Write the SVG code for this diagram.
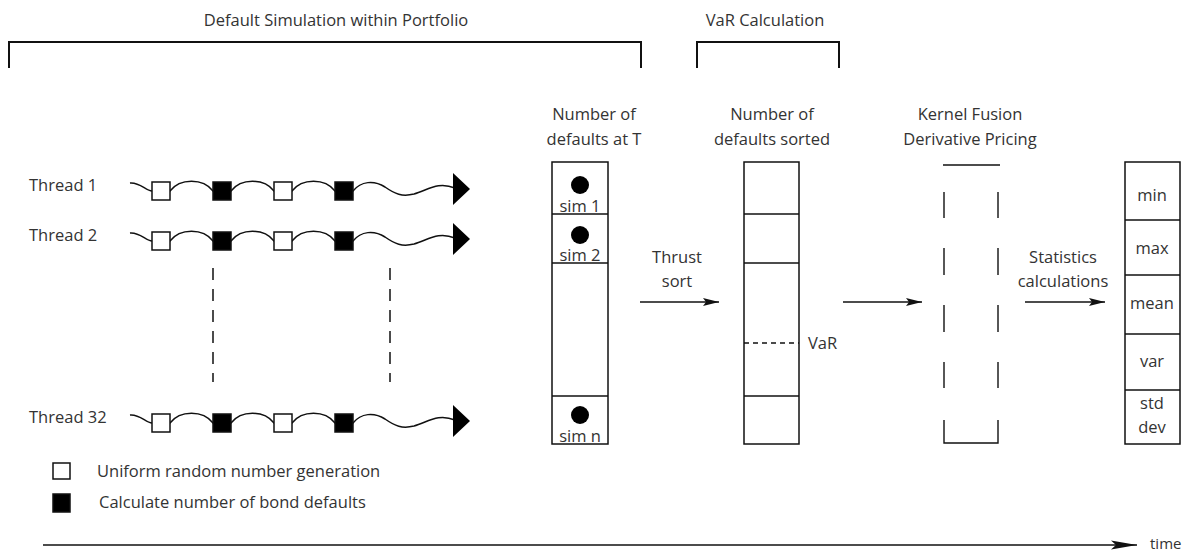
<svg xmlns="http://www.w3.org/2000/svg" width="1194" height="552" viewBox="0 0 1194 552">
<style>
text{font-family:"Open Sans","Liberation Sans",sans-serif;font-size:16.5px;fill:#333}
.c{text-anchor:middle}
.ln{fill:none;stroke:#111;stroke-width:1.4}
.br{fill:none;stroke:#111;stroke-width:2}
.wave{fill:none;stroke:#111;stroke-width:1.5}
.sqw{fill:#fff;stroke:#111;stroke-width:1.5}
.sqb{fill:#000;stroke:#111;stroke-width:1.5}
.box{fill:#fff;stroke:#111;stroke-width:1.5}
.dash{fill:none;stroke:#111;stroke-width:1.5;stroke-dasharray:12 9}
</style>
<defs>
<marker id="ah" viewBox="0 0 16 10" refX="16" refY="5" markerWidth="16" markerHeight="10" markerUnits="userSpaceOnUse" orient="auto">
<path d="M0,1 L16,5 L0,9 L3,5 Z" fill="#111"/>
</marker>
<marker id="ah2" viewBox="0 0 26 10" refX="26" refY="5" markerWidth="26" markerHeight="10" markerUnits="userSpaceOnUse" orient="auto">
<path d="M0,0.5 L26,5 L0,9.5 L5,5 Z" fill="#111"/>
</marker>
<g id="thread">
<path class="wave" d="M130,183 C140,182 146,191 152,191 L170,191 C180,178 203,178 213,191 L231,191 C241,178 264,178 274,191 L292,191 C302,178 325,178 335,191 L353,191 C361,181 374,180 385,187 C395,194 402,197 414,194 C428,190 438,181 455,188"/>
<rect class="sqw" x="152" y="182" width="18" height="18"/>
<rect class="sqb" x="213" y="182" width="18" height="18"/>
<rect class="sqw" x="274" y="182" width="18" height="18"/>
<rect class="sqb" x="335" y="182" width="18" height="18"/>
<polygon points="453,173 470,189 453,205" fill="#000"/>
</g>
</defs>

<g id="phase-default-sim">
<path class="br" d="M9,68 V42 H641 V68"/>
<text class="c" x="336" y="26">Default Simulation within Portfolio</text>
</g>
<g id="phase-var">
<path class="br" d="M697,68 V42 H839 V68"/>
<text class="c" x="765" y="26">VaR Calculation</text>
</g>

<g id="thread-1">
<text x="29" y="191">Thread 1</text>
<use href="#thread"/>
</g>
<g id="thread-2">
<text x="29" y="241">Thread 2</text>
<use href="#thread" transform="translate(0,50)"/>
</g>
<g id="thread-32">
<text x="29" y="423">Thread 32</text>
<use href="#thread" transform="translate(0,232)"/>
</g>
<g id="ellipsis">
<line class="dash" x1="213" y1="268" x2="213" y2="382"/>
<line class="dash" x1="390" y1="268" x2="390" y2="382"/>
</g>

<g id="legend">
<rect class="sqw" x="53" y="463" width="17" height="16"/>
<text x="97" y="477">Uniform random number generation</text>
<rect class="sqb" x="53" y="494" width="17" height="18"/>
<text x="99" y="508">Calculate number of bond defaults</text>
</g>

<g id="defaults-at-T">
<text class="c" x="594" y="120">Number of</text>
<text class="c" x="594" y="145">defaults at T</text>
<rect class="box" x="552" y="162" width="56" height="282"/>
<line class="ln" x1="552" y1="214" x2="608" y2="214"/>
<line class="ln" x1="552" y1="263" x2="608" y2="263"/>
<line class="ln" x1="552" y1="396" x2="608" y2="396"/>
<circle cx="580" cy="185" r="9" fill="#000"/>
<text class="c" x="580" y="212">sim 1</text>
<circle cx="580" cy="235" r="9" fill="#000"/>
<text class="c" x="580" y="261">sim 2</text>
<circle cx="580" cy="415" r="9" fill="#000"/>
<text class="c" x="580" y="442">sim n</text>
</g>

<g id="defaults-sorted">
<text class="c" x="772" y="120">Number of</text>
<text class="c" x="772" y="145">defaults sorted</text>
<rect class="box" x="744" y="162" width="55" height="282"/>
<line class="ln" x1="744" y1="214" x2="799" y2="214"/>
<line class="ln" x1="744" y1="263" x2="799" y2="263"/>
<line class="ln" x1="744" y1="396" x2="799" y2="396"/>
<line x1="744" y1="343" x2="799" y2="343" stroke="#111" stroke-width="1.4" stroke-dasharray="5 4"/>
<text x="808" y="349">VaR</text>
</g>

<g id="kernel-fusion">
<text class="c" x="970" y="120">Kernel Fusion</text>
<text class="c" x="970" y="145">Derivative Pricing</text>
<line class="ln" x1="943" y1="165" x2="1000" y2="165"/>
<path class="ln" d="M944,192 V218 M944,248 V275 M944,305 V332 M944,362 V388 M944,420 V443 H998 V420 M998,362 V388 M998,305 V332 M998,248 V275 M998,192 V218"/>
</g>

<g id="statistics">
<rect class="box" x="1125" y="162" width="55" height="282"/>
<line class="ln" x1="1125" y1="220" x2="1180" y2="220"/>
<line class="ln" x1="1125" y1="275" x2="1180" y2="275"/>
<line class="ln" x1="1125" y1="334" x2="1180" y2="334"/>
<line class="ln" x1="1125" y1="390" x2="1180" y2="390"/>
<text class="c" x="1152" y="201">min</text>
<text class="c" x="1152" y="254">max</text>
<text class="c" x="1152" y="309">mean</text>
<text class="c" x="1152" y="367">var</text>
<text class="c" x="1152" y="409">std</text>
<text class="c" x="1152" y="433">dev</text>
</g>

<g id="connectors">
<line class="ln" x1="640" y1="302" x2="719" y2="302" marker-end="url(#ah)"/>
<line class="ln" x1="843" y1="302" x2="922" y2="302" marker-end="url(#ah)"/>
<line class="ln" x1="1025" y1="302" x2="1105" y2="302" marker-end="url(#ah)"/>
<line class="ln" x1="43" y1="545" x2="1137" y2="545" marker-end="url(#ah2)"/>
</g>
<g id="connector-labels">
<text class="c" x="677" y="263">Thrust</text>
<text class="c" x="677" y="287">sort</text>
<text class="c" x="1063" y="263">Statistics</text>
<text class="c" x="1063" y="287">calculations</text>
<text x="1150" y="549" style="font-size:15px">time</text>
</g>
</svg>
